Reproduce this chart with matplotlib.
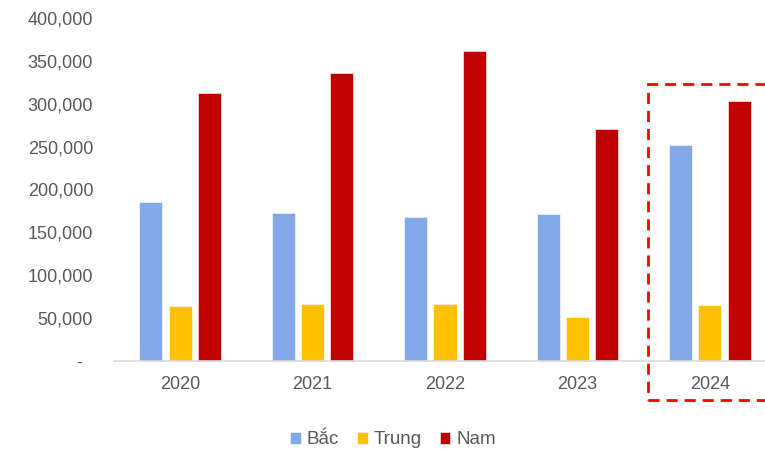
import matplotlib.pyplot as plt
import matplotlib.patches as mpatches
import numpy as np

years = ['2020', '2021', '2022', '2023', '2024']
bac = [186000, 173000, 168000, 171000, 252000]
trung = [64500, 66500, 66500, 51000, 65000]
nam = [313000, 336000, 361000, 270000, 303000]
series_labels = ['Bắc', 'Trung', 'Nam']
colors = ['#83a8e8', '#ffc000', '#c00000']

plt.rcParams['font.family'] = ['Liberation Sans', 'DejaVu Sans']

fig = plt.figure(figsize=(7.65, 4.51), dpi=100)
ax = fig.add_axes([114 / 765, 90 / 451, 662 / 765, 343 / 451])

x = np.arange(len(years))
width = 0.174
step = 0.221
for i, (vals, lab, c) in enumerate(zip([bac, trung, nam], series_labels, colors)):
    ax.bar(x + (i - 1) * step, vals, width, color=c, label=lab,
           edgecolor='white', linewidth=0.4)

ax.set_xlim(-0.5, 4.5)
ax.set_ylim(0, 400000)
ax.set_yticks(np.arange(0, 400001, 50000))
ax.set_yticklabels(['-  '] + [f'{v:,}' for v in range(50000, 400001, 50000)])
ax.set_xticks(x)
ax.set_xticklabels(years)

for side in ['top', 'right', 'left']:
    ax.spines[side].set_visible(False)
ax.spines['bottom'].set_color('#d9d9d9')
ax.spines['bottom'].set_linewidth(1.2)
ax.tick_params(axis='y', length=0, pad=15, labelsize=13, labelcolor='#595959')
ax.tick_params(axis='x', length=0, pad=11, labelsize=13, labelcolor='#595959')

# highlight box around the latest year
box = mpatches.Rectangle((648 / 765, 51 / 451), 200 / 765, 316 / 451,
                         transform=fig.transFigure, fill=False,
                         edgecolor='#ff0000', linewidth=2, linestyle=(0, (4, 2.5)),
                         clip_on=False)
fig.add_artist(box)

fig.legend(loc='center', bbox_to_anchor=(393 / 765, 1 - 440 / 451), ncol=3,
           frameon=False, fontsize=13.5, labelcolor='#595959',
           handlelength=0.55, handleheight=0.55, handletextpad=0.3,
           columnspacing=1.0)

fig.savefig('out.png', dpi=100)
